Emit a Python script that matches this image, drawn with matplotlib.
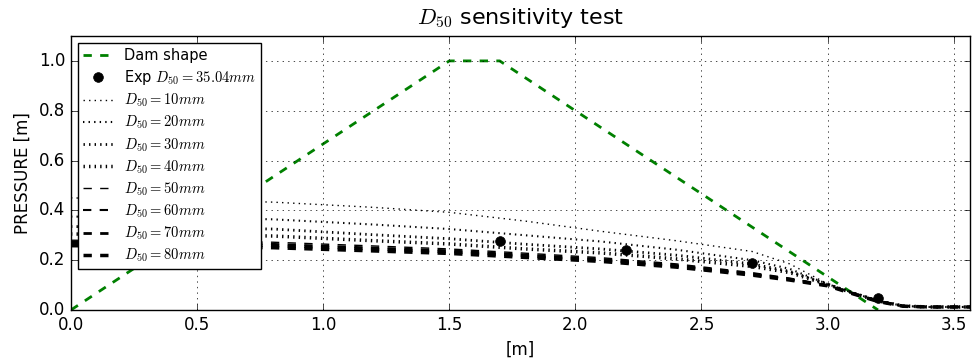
import numpy as np
import matplotlib
matplotlib.use("Agg")
import matplotlib.pyplot as plt

plt.style.use("classic")

# dam profile
dam_x = [0.0, 1.5, 1.7, 3.2]
dam_y = [0.0, 1.0, 1.0, 0.0]

# experimental pressures, D50 = 35.04 mm
exp_x = [1.7, 2.2, 2.7, 3.2]
exp_p = [0.275, 0.240, 0.190, 0.050]

# simulated pressure along the dam for each D50
x_sim = [0.0, 0.4, 0.8, 1.2, 1.5, 1.8, 2.1, 2.4, 2.7, 2.85, 3.0, 3.1, 3.2, 3.3, 3.4, 3.565]
d50_sizes = [10, 20, 30, 40, 50, 60, 70, 80]
p_d10 = [0.450, 0.442, 0.433, 0.412, 0.392, 0.357, 0.316, 0.278, 0.235, 0.185, 0.105, 0.070, 0.038, 0.016, 0.012, 0.012]
p_d20 = [0.375, 0.370, 0.364, 0.343, 0.325, 0.300, 0.275, 0.242, 0.200, 0.165, 0.104, 0.069, 0.037, 0.016, 0.012, 0.012]
p_d30 = [0.335, 0.330, 0.325, 0.302, 0.286, 0.264, 0.245, 0.220, 0.185, 0.155, 0.103, 0.069, 0.037, 0.016, 0.012, 0.012]
p_d40 = [0.305, 0.301, 0.297, 0.278, 0.265, 0.245, 0.229, 0.205, 0.175, 0.150, 0.102, 0.068, 0.036, 0.016, 0.012, 0.012]
p_d50 = [0.280, 0.277, 0.272, 0.257, 0.245, 0.228, 0.210, 0.185, 0.150, 0.128, 0.100, 0.068, 0.036, 0.016, 0.012, 0.012]
p_d60 = [0.273, 0.270, 0.265, 0.250, 0.239, 0.222, 0.205, 0.180, 0.146, 0.125, 0.099, 0.067, 0.035, 0.015, 0.012, 0.012]
p_d70 = [0.266, 0.263, 0.258, 0.244, 0.233, 0.217, 0.200, 0.176, 0.143, 0.122, 0.098, 0.066, 0.035, 0.015, 0.012, 0.012]
p_d80 = [0.258, 0.255, 0.250, 0.237, 0.227, 0.211, 0.195, 0.172, 0.140, 0.120, 0.097, 0.065, 0.034, 0.015, 0.012, 0.012]
pressures = [p_d10, p_d20, p_d30, p_d40, p_d50, p_d60, p_d70, p_d80]

styles = [":", ":", ":", ":", "--", "--", "--", "--"]
widths = [1, 1.5, 2, 2.5, 1, 1.5, 2, 2.5]

fig = plt.figure(figsize=(9.72, 3.6), dpi=100, facecolor="white")
ax = fig.add_axes([0.073, 0.139, 0.925, 0.761])

ax.plot(dam_x, dam_y, "g--", linewidth=2, label="Dam shape")
ax.plot(exp_x, exp_p, "ko", markersize=7, label="Exp $D_{50}=35.04 mm$")
for d, p, ls, lw in zip(d50_sizes, pressures, styles, widths):
    ax.plot(x_sim, p, color="k", linestyle=ls, linewidth=lw,
            label="$D_{50}=%d mm$" % d)

ax.set_xlim(0, 3.565)
ax.set_ylim(0, 1.1)
ax.set_xticks(np.arange(0, 3.51, 0.5))
ax.set_yticks(np.arange(0, 1.01, 0.2))
ax.grid(True)
ax.set_xlabel("[m]")
ax.set_ylabel("PRESSURE [m]")
ax.set_title("$D_{50}$ sensitivity test", fontsize=16, pad=9)
ax.legend(loc="upper left", numpoints=1, fontsize=10.5, labelspacing=0.32,
          borderpad=0.35)

fig.savefig("out.png", dpi=100, facecolor="white")
